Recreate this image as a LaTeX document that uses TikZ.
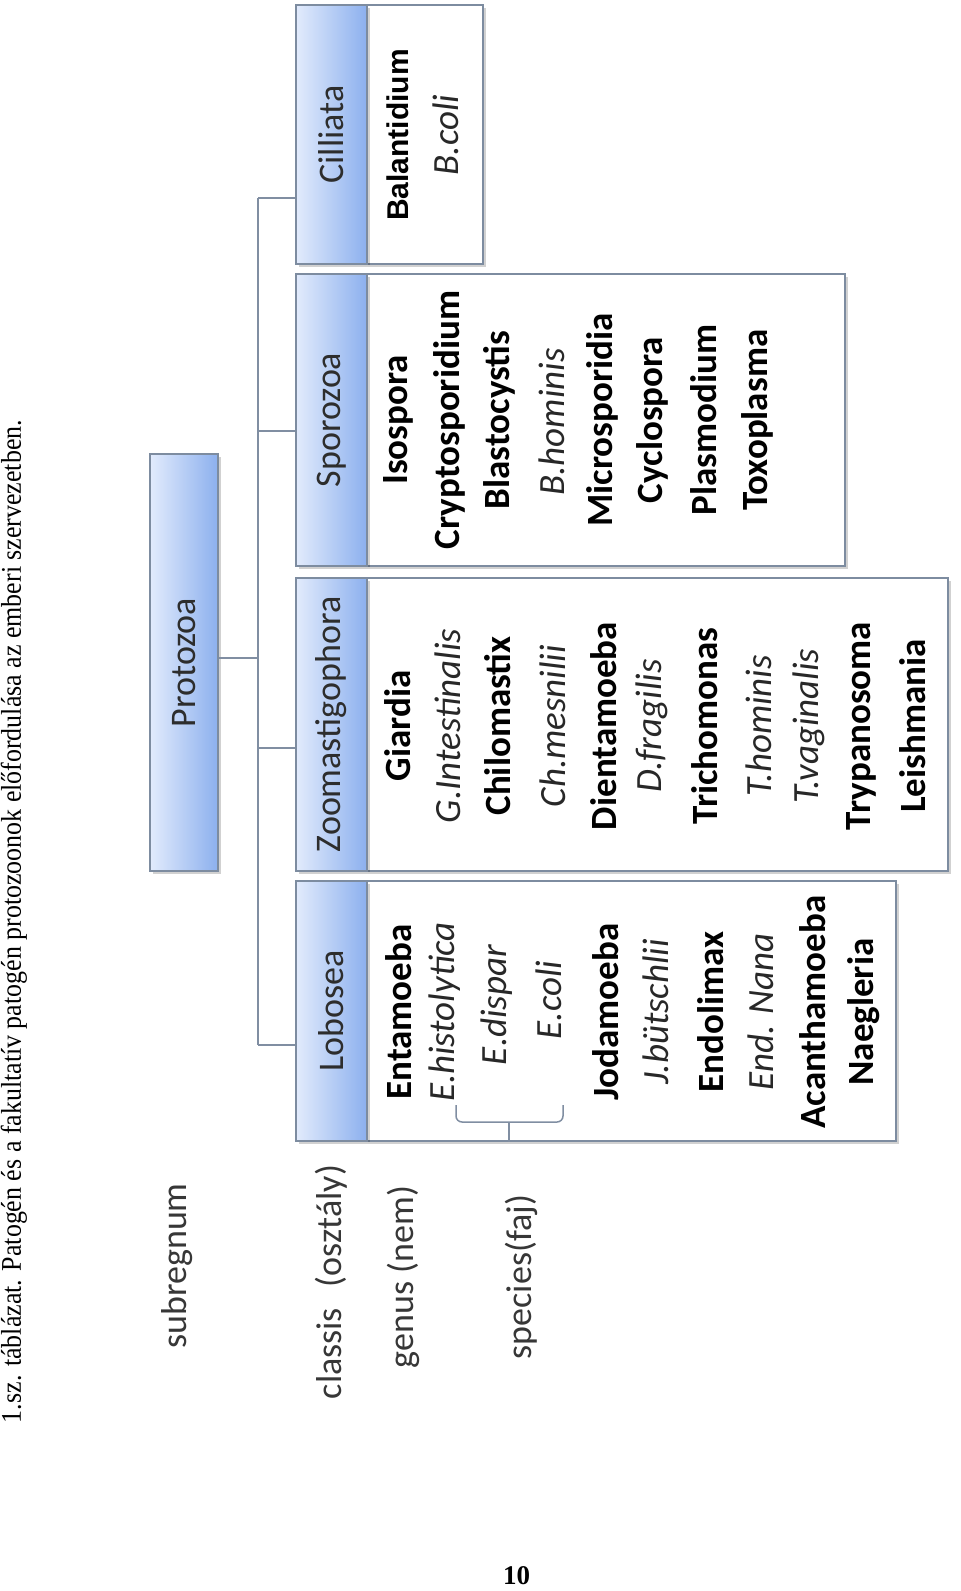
\documentclass[tikz,border=0pt]{standalone}
\usepackage{fontspec}
\setmainfont{Carlito}
\newfontfamily\capfont{Liberation Serif}
\newfontfamily\arialfont{Liberation Sans}
\usetikzlibrary{fit,shadows}
\definecolor{hdrL}{RGB}{226,235,252}
\definecolor{hdrR}{RGB}{140,176,238}
\definecolor{bordc}{RGB}{125,140,160}
\definecolor{linec}{RGB}{128,142,162}
\definecolor{hdrtext}{RGB}{45,45,45}
\definecolor{lbltext}{RGB}{55,55,55}
\definecolor{spctext}{RGB}{40,40,40}
\begin{document}
\begin{tikzpicture}[x=0.5pt,y=-0.5pt,
  box/.style={draw=bordc, line width=0.7pt, inner sep=0pt, rectangle},
  shad/.style={drop shadow={shadow xshift=1.3pt, shadow yshift=-1.3pt, fill=black, opacity=0.18}},
  hdr/.style={box, shad, left color=hdrL, right color=hdrR},
  cnt/.style={box, shad, fill=white},
  conn/.style={draw=linec, line width=0.75pt},
  hdrtxt/.style={rotate=90, inner sep=0pt, text=hdrtext, font=\fontsize{18}{20}\selectfont},
  lbl/.style={rotate=90, inner sep=0pt, text=lbltext, font=\fontsize{18}{20}\selectfont},
  gen/.style={rotate=90, inner sep=0pt, text=black, font=\fontsize{18.5}{20}\selectfont\bfseries},
  spc/.style={rotate=90, inner sep=0pt, text=spctext, font=\fontsize{18.5}{20}\selectfont\itshape}
]
\useasboundingbox (0,0) rectangle (960,1591);
\fill[white] (0,0) rectangle (960,1591);

% caption and page number
\node[rotate=90, anchor=base, inner sep=0pt] (cap) at (21,921.5)
  {\resizebox{501.5pt}{!}{\scalebox{1}[1.1]{\capfont\fontsize{12}{14}\selectfont 1.sz. táblázat. Patogén és a fakultatív patogén protozoonok előfordulása az emberi szervezetben.}}};
\node[inner sep=0pt, font=\capfont\bfseries\fontsize{13.5}{15}\selectfont] (pnum) at (516.5,1576) {10};

% row labels
\node[lbl] (lsub) at (177,1266) {subregnum};
\node[lbl] (lcls) at (331,1282) {classis\hspace{0.35em} (osztály)};
\node[lbl] (lgen) at (403,1277) {genus (nem)};
\node[lbl] (lspc) at (521,1277) {species(faj)};

% boxes
\node[hdr, fit={(150,454) (218,871)}] (prot) {};
\node[cnt, fit={(367,5) (483,264)}] (cilC) {};
\node[hdr, fit={(296,5) (367,264)}] (cil) {};
\node[cnt, fit={(367,274) (845,566)}] (spoC) {};
\node[hdr, fit={(296,274) (367,566)}] (spo) {};
\node[cnt, fit={(367,578) (948,871)}] (zooC) {};
\node[hdr, fit={(296,578) (367,871)}] (zoo) {};
\node[cnt, fit={(367,881) (896,1141)}] (lobC) {};
\node[hdr, fit={(296,881) (367,1141)}] (lob) {};

\node[hdrtxt] (tprot) at (prot.center) {Protozoa};
\node[hdrtxt] (tcil) at (cil.center) {Cilliata};
\node[hdrtxt] (tspo) at (spo.center) {Sporozoa};
\node[hdrtxt] (tzoo) at (zoo.center) {Zoomastigophora};
\node[hdrtxt] (tlob) at (lob.center) {Lobosea};

% connectors
\coordinate (bP) at (258,658);
\coordinate (bC) at (258,198);
\coordinate (bS) at (258,431);
\coordinate (bZ) at (258,748);
\coordinate (bL) at (258,1045);
\draw[conn] (bC) -- (bL);
\draw[conn] (prot.east |- bP) -- (bP);
\draw[conn] (bC) -- (bC -| cil.west);
\draw[conn] (bS) -- (bS -| spo.west);
\draw[conn] (bZ) -- (bZ -| zoo.west);
\draw[conn] (bL) -- (bL -| lob.west);

% Cilliata
\node[rotate=90, inner sep=0pt, font=\arialfont\bfseries\fontsize{15}{17}\selectfont] (c1) at (398,135) {Balantidium};
\node[spc] (c2) at (446,135) {B.coli};

% Sporozoa
\node[gen] (s1) at (398,420) {Isospora};
\node[gen] (s2) at (449,420) {Cryptosporidium};
\node[gen] (s3) at (499,420) {Blastocystis};
\node[spc] (s4) at (552,422) {B.hominis};
\node[gen] (s5) at (602,420) {Microsporidia};
\node[gen] (s6) at (652,420) {Cyclospora};
\node[gen] (s7) at (704,420) {Plasmodium};
\node[gen] (s8) at (757,420) {Toxoplasma};

% Zoomastigophora
\node[gen] (z1) at (398,726) {Giardia};
\node[spc] (z2) at (448,726) {G.Intestinalis};
\node[gen] (z3) at (498,726) {Chilomastix};
\node[spc] (z4) at (553,726) {Ch.mesnilii};
\node[gen] (z5) at (603.5,726) {Dientamoeba};
\node[spc] (z6) at (652,726) {D.fragilis};
\node[gen] (z7) at (704.5,726) {Trichomonas};
\node[spc] (z8) at (758.5,726) {T.hominis};
\node[spc] (z9) at (809,726) {T.vaginalis};
\node[gen] (z10) at (861.5,726) {Trypanosoma};
\node[gen] (z11) at (912.5,726) {Leishmania};

% Lobosea
\node[gen] (o1) at (399,1012) {Entamoeba};
\node[spc] (o2) at (444.5,1012) {E.histolytica};
\node[spc] (o3) at (496.5,1005) {E.dispar};
\node[spc] (o4) at (548.5,1000) {E.coli};
\node[gen] (o5) at (605.5,1012) {Jodamoeba};
\node[spc] (o6) at (655.5,1012) {J.bütschlii};
\node[gen] (o7) at (711,1012) {Endolimax};
\node[spc] (o8) at (761,1012) {End. Nana};
\node[gen] (o9) at (812.5,1012) {Acanthamoeba};
\node[gen] (o10) at (864,1012) {Naegleria};

% brace under species
\coordinate (brL) at (456,1105);
\coordinate (brR) at (563,1105);
\coordinate (brM) at (509,1122);
\draw[conn, rounded corners=3pt] (brL) -- (brL |- brM) -- (brR |- brM) -- (brR);
\draw[conn] (brM) -- (brM |- lobC.south);
\end{tikzpicture}
\end{document}
